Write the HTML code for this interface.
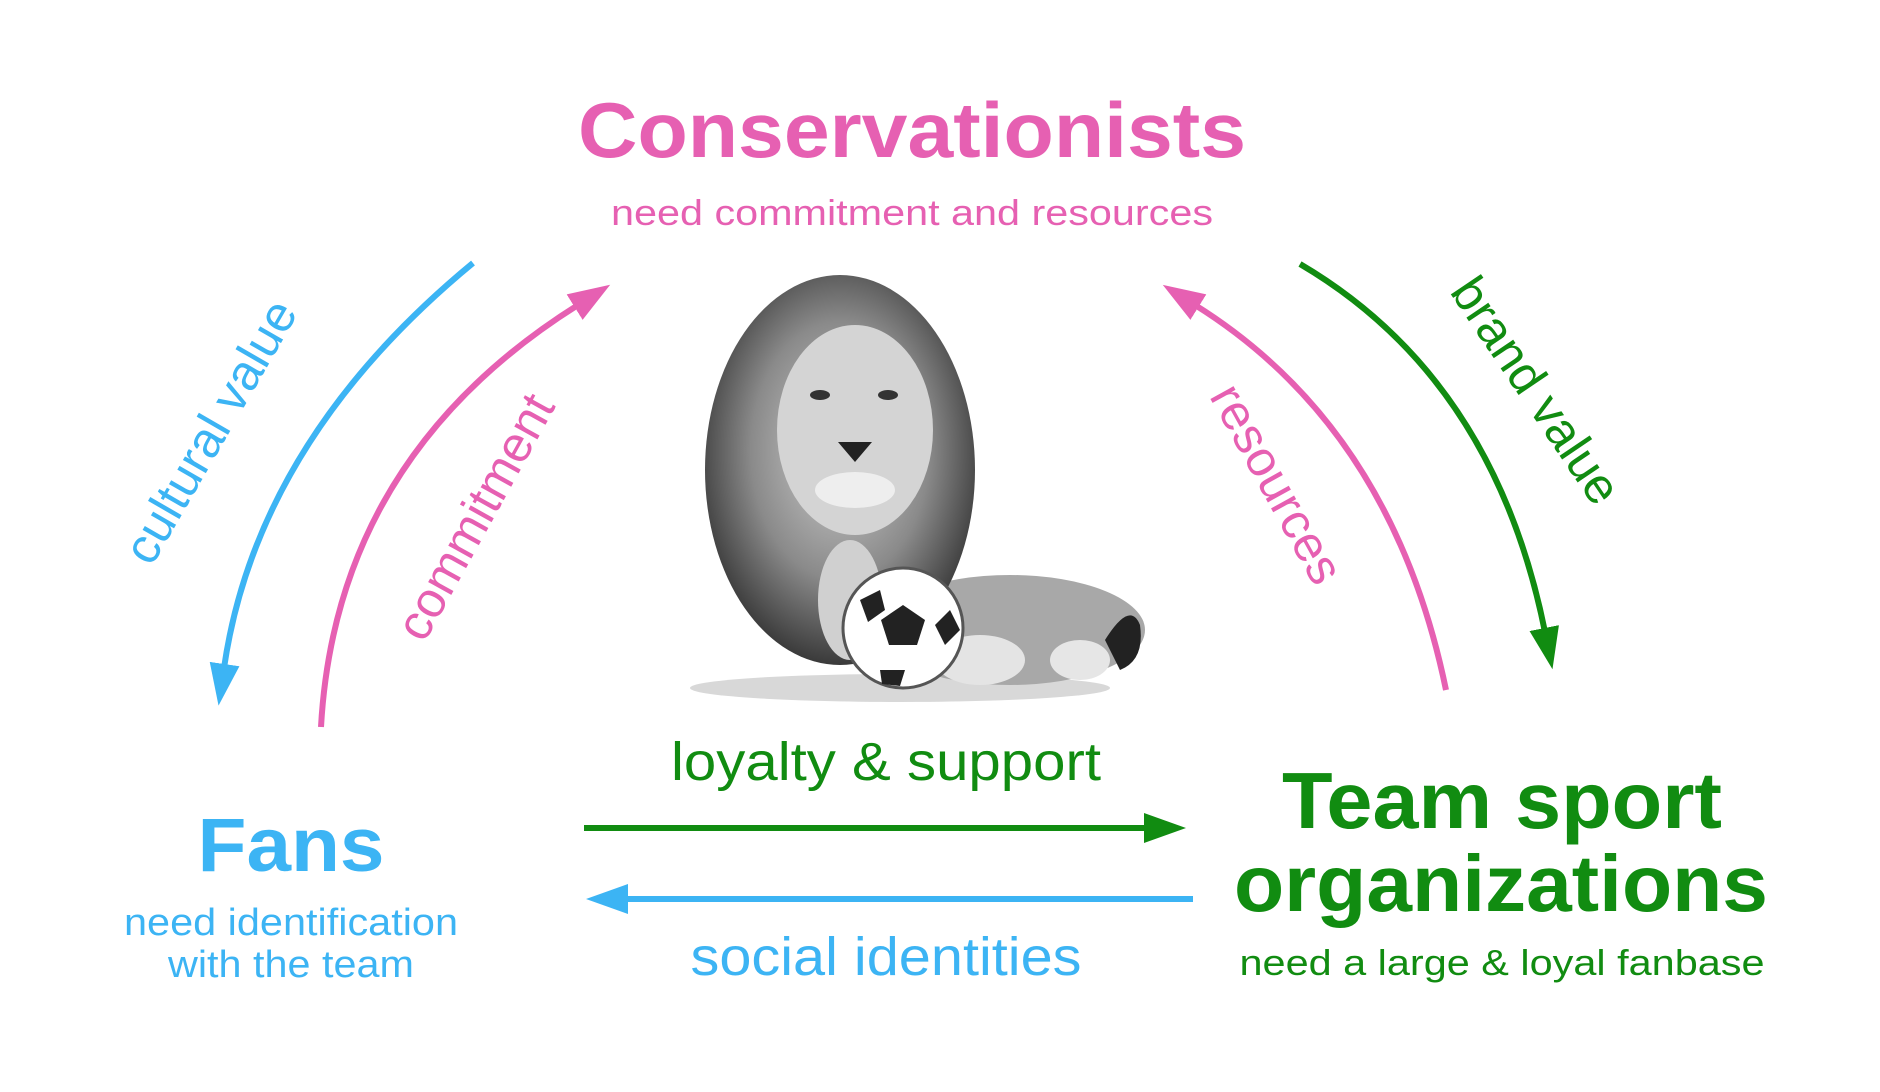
<!DOCTYPE html>
<html><head><meta charset="utf-8"><style>
html,body{margin:0;padding:0;background:#fff;}
svg{display:block;}
text{font-family:"Liberation Sans",Arial,sans-serif;}
</style></head><body>
<svg width="1880" height="1092" viewBox="0 0 1880 1092" xmlns="http://www.w3.org/2000/svg">
<defs>
<marker id="mb" markerUnits="userSpaceOnUse" markerWidth="44" markerHeight="36" refX="4" refY="18" orient="auto"><path d="M0,3 L42,18 L0,33 Z" fill="#3cb4f4"/></marker>
<marker id="mp" markerUnits="userSpaceOnUse" markerWidth="44" markerHeight="36" refX="4" refY="18" orient="auto"><path d="M0,3 L42,18 L0,33 Z" fill="#e660b2"/></marker>
<marker id="mg" markerUnits="userSpaceOnUse" markerWidth="44" markerHeight="36" refX="4" refY="18" orient="auto"><path d="M0,3 L42,18 L0,33 Z" fill="#118c11"/></marker>
<radialGradient id="mane" cx="50%" cy="45%" r="55%"><stop offset="0" stop-color="#cfcfcf"/><stop offset="0.6" stop-color="#8a8a8a"/><stop offset="1" stop-color="#3a3a3a"/></radialGradient>
</defs>

<g>
<ellipse cx="900" cy="688" rx="210" ry="14" fill="#d8d8d8"/>
<ellipse cx="1010" cy="630" rx="135" ry="55" fill="#a8a8a8"/>
<path d="M1105,640 Q1130,600 1140,625 Q1145,660 1120,670 Z" fill="#222"/>
<ellipse cx="1080" cy="660" rx="30" ry="20" fill="#e6e6e6"/>
<ellipse cx="840" cy="470" rx="135" ry="195" fill="url(#mane)"/>
<ellipse cx="855" cy="430" rx="78" ry="105" fill="#d4d4d4"/>
<ellipse cx="820" cy="395" rx="10" ry="5" fill="#333"/>
<ellipse cx="888" cy="395" rx="10" ry="5" fill="#333"/>
<path d="M838,442 L872,442 L855,462 Z" fill="#222"/>
<ellipse cx="855" cy="490" rx="40" ry="18" fill="#eee"/>
<ellipse cx="850" cy="600" rx="32" ry="60" fill="#d0d0d0"/>
<ellipse cx="980" cy="660" rx="45" ry="25" fill="#e4e4e4"/>
<circle cx="903" cy="628" r="60" fill="#fff" stroke="#555" stroke-width="3"/>
<polygon points="903,605 925,620 917,645 889,645 881,620" fill="#222"/>
<polygon points="860,600 880,590 885,610 868,622" fill="#222"/>
<polygon points="950,610 960,630 945,645 935,625" fill="#222"/>
<polygon points="880,670 905,670 900,686 882,684" fill="#222"/>
</g>

<path d="M473,263 Q257,441 224,668" fill="none" stroke="#3cb4f4" stroke-width="6" marker-end="url(#mb)"/>
<path d="M321,727 Q336,457 578,305" fill="none" stroke="#e660b2" stroke-width="6" marker-end="url(#mp)"/>
<path d="M1446,690 Q1392,428 1195,305" fill="none" stroke="#e660b2" stroke-width="6" marker-end="url(#mp)"/>
<path d="M1300,264 Q1494,378 1545,632" fill="none" stroke="#118c11" stroke-width="6" marker-end="url(#mg)"/>

<line x1="584" y1="828" x2="1148" y2="828" stroke="#118c11" stroke-width="6" marker-end="url(#mg)"/>
<line x1="1193" y1="899" x2="624" y2="899" stroke="#3cb4f4" stroke-width="6" marker-end="url(#mb)"/>

<text x="0" y="0" font-size="50" fill="#3cb4f4" text-anchor="middle" transform="translate(225,440) rotate(-60)">cultural value</text>
<text x="0" y="0" font-size="50" fill="#e660b2" text-anchor="middle" transform="translate(490,525) rotate(-61)">commitment</text>
<text x="0" y="0" font-size="50" fill="#e660b2" text-anchor="middle" transform="translate(1262,492) rotate(61)">resources</text>
<text x="0" y="0" font-size="50" fill="#118c11" text-anchor="middle" transform="translate(1522,400) rotate(56)">brand value</text>

<text x="912" y="157" font-size="78" font-weight="bold" fill="#e660b2" text-anchor="middle" textLength="668" lengthAdjust="spacingAndGlyphs">Conservationists</text>
<text x="912" y="225" font-size="36" fill="#e660b2" text-anchor="middle" textLength="602" lengthAdjust="spacingAndGlyphs">need commitment and resources</text>

<text x="291" y="871" font-size="76" font-weight="bold" fill="#3cb4f4" text-anchor="middle" textLength="187" lengthAdjust="spacingAndGlyphs">Fans</text>
<text x="291" y="935" font-size="38" fill="#3cb4f4" text-anchor="middle" textLength="334" lengthAdjust="spacingAndGlyphs">need identification</text>
<text x="291" y="977" font-size="38" fill="#3cb4f4" text-anchor="middle" textLength="246" lengthAdjust="spacingAndGlyphs">with the team</text>

<text x="1502" y="828" font-size="80" font-weight="bold" fill="#118c11" text-anchor="middle" textLength="440" lengthAdjust="spacingAndGlyphs">Team sport</text>
<text x="1501" y="911" font-size="80" font-weight="bold" fill="#118c11" text-anchor="middle" textLength="534" lengthAdjust="spacingAndGlyphs">organizations</text>
<text x="1502" y="975" font-size="36" fill="#118c11" text-anchor="middle" textLength="525" lengthAdjust="spacingAndGlyphs">need a large &amp; loyal fanbase</text>

<text x="886" y="780" font-size="54" fill="#118c11" text-anchor="middle" textLength="430" lengthAdjust="spacingAndGlyphs">loyalty &amp; support</text>
<text x="886" y="975" font-size="54" fill="#3cb4f4" text-anchor="middle" textLength="391" lengthAdjust="spacingAndGlyphs">social identities</text>
</svg>
</body></html>
